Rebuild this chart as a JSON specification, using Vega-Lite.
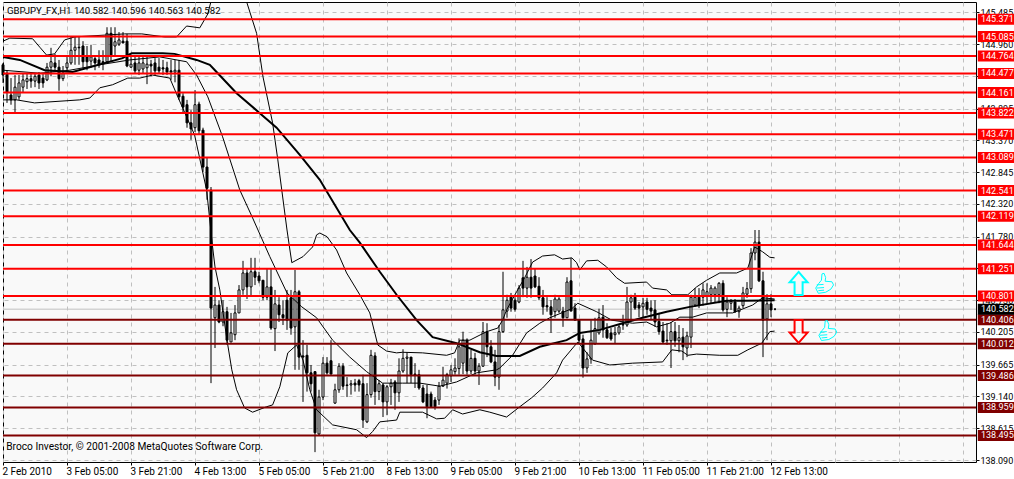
{
  "$schema": "https://vega.github.io/schema/vega-lite/v6.json",
  "description": "GBPJPY H1 candlestick chart with bands and support and resistance levels",
  "width": 973,
  "height": 460,
  "autosize": "none",
  "padding": {"left": 3, "top": 2, "right": 38, "bottom": 17},
  "background": "#ffffff",
  "view": {"fill": "#f9f9f9", "stroke": "#000000", "strokeWidth": 1},
  "title": {"text": "GBPJPY_FX,H1  140.582 140.596 140.563 140.582", "anchor": "start", "frame": "group", "offset": -14, "dx": 4, "font": "Roboto", "fontSize": 9.6, "fontWeight": "normal", "color": "#000000"},
  "datasets": {
    "bars": [
      {"i":0,"o":144.62,"h":144.65,"l":144.32,"c":144.45},{"i":1,"o":144.48,"h":144.53,"l":143.99,"c":144.17},{"i":2,"o":144.12,"h":144.40,"l":143.96,"c":144.04},{"i":3,"o":144.04,"h":144.45,"l":143.84,"c":144.25},{"i":4,"o":144.09,"h":144.45,"l":144.04,"c":144.32},{"i":5,"o":144.25,"h":144.47,"l":144.17,"c":144.37},{"i":6,"o":144.34,"h":144.47,"l":144.22,"c":144.39},{"i":7,"o":144.39,"h":144.47,"l":144.24,"c":144.35},{"i":8,"o":144.35,"h":144.48,"l":144.25,"c":144.43},{"i":9,"o":144.45,"h":144.50,"l":144.22,"c":144.32},
      {"i":10,"o":144.40,"h":144.47,"l":144.24,"c":144.32},{"i":11,"o":144.37,"h":144.65,"l":144.35,"c":144.58},{"i":12,"o":144.58,"h":144.90,"l":144.43,"c":144.67},{"i":13,"o":144.65,"h":144.80,"l":144.53,"c":144.58},{"i":14,"o":144.58,"h":144.70,"l":144.19,"c":144.39},{"i":15,"o":144.39,"h":144.60,"l":144.35,"c":144.48},{"i":16,"o":144.57,"h":144.76,"l":144.53,"c":144.65},{"i":17,"o":144.65,"h":145.08,"l":144.62,"c":144.86},{"i":18,"o":144.86,"h":145.08,"l":144.62,"c":144.91},{"i":19,"o":144.91,"h":145.08,"l":144.62,"c":144.90},
      {"i":20,"o":144.93,"h":145.01,"l":144.57,"c":144.67},{"i":21,"o":144.75,"h":144.93,"l":144.53,"c":144.67},{"i":22,"o":144.68,"h":144.95,"l":144.57,"c":144.75},{"i":23,"o":144.72,"h":144.78,"l":144.53,"c":144.65},{"i":24,"o":144.70,"h":144.86,"l":144.57,"c":144.62},{"i":25,"o":144.67,"h":144.86,"l":144.53,"c":144.65},{"i":26,"o":144.67,"h":145.24,"l":144.65,"c":145.14},{"i":27,"o":145.14,"h":145.24,"l":144.67,"c":144.78},{"i":28,"o":144.93,"h":145.24,"l":144.78,"c":145.00},{"i":29,"o":144.96,"h":145.16,"l":144.93,"c":145.03},
      {"i":30,"o":145.01,"h":145.16,"l":144.98,"c":144.98},{"i":31,"o":145.01,"h":145.13,"l":144.58,"c":144.60},{"i":32,"o":144.58,"h":144.78,"l":144.57,"c":144.63},{"i":33,"o":144.65,"h":144.78,"l":144.48,"c":144.52},{"i":34,"o":144.53,"h":144.75,"l":144.45,"c":144.65},{"i":35,"o":144.55,"h":144.75,"l":144.48,"c":144.65},{"i":36,"o":144.57,"h":144.75,"l":144.30,"c":144.63},{"i":37,"o":144.63,"h":144.70,"l":144.43,"c":144.60},{"i":38,"o":144.65,"h":144.73,"l":144.45,"c":144.52},{"i":39,"o":144.58,"h":144.73,"l":144.48,"c":144.52},
      {"i":40,"o":144.57,"h":144.70,"l":144.45,"c":144.55},{"i":41,"o":144.57,"h":144.67,"l":144.45,"c":144.50},{"i":42,"o":144.52,"h":144.70,"l":144.37,"c":144.50},{"i":43,"o":144.50,"h":144.70,"l":144.33,"c":144.53},{"i":44,"o":144.53,"h":144.70,"l":144.04,"c":144.09},{"i":45,"o":144.10,"h":144.15,"l":143.81,"c":143.92},{"i":46,"o":143.96,"h":144.04,"l":143.58,"c":143.66},{"i":47,"o":143.66,"h":143.87,"l":143.38,"c":143.56},{"i":48,"o":143.58,"h":144.20,"l":143.51,"c":143.96},{"i":49,"o":143.97,"h":144.01,"l":143.46,"c":143.53},
      {"i":50,"o":143.54,"h":143.58,"l":142.85,"c":142.93},{"i":51,"o":142.93,"h":143.08,"l":142.39,"c":142.58},{"i":52,"o":142.55,"h":142.60,"l":139.36,"c":140.60},{"i":53,"o":140.44,"h":140.95,"l":139.94,"c":140.65},{"i":54,"o":140.65,"h":140.73,"l":140.35,"c":140.37},{"i":55,"o":140.37,"h":140.73,"l":140.30,"c":140.54},{"i":56,"o":140.54,"h":140.62,"l":139.99,"c":140.07},{"i":57,"o":140.04,"h":140.52,"l":140.04,"c":140.19},{"i":58,"o":140.16,"h":140.65,"l":140.07,"c":140.52},{"i":59,"o":140.52,"h":140.98,"l":140.52,"c":140.90},
      {"i":60,"o":140.90,"h":141.38,"l":140.82,"c":141.18},{"i":61,"o":141.18,"h":141.26,"l":140.75,"c":140.95},{"i":62,"o":140.95,"h":141.43,"l":140.80,"c":141.20},{"i":63,"o":141.20,"h":141.43,"l":140.98,"c":141.11},{"i":64,"o":141.13,"h":141.20,"l":141.01,"c":141.05},{"i":65,"o":141.06,"h":141.06,"l":140.73,"c":140.78},{"i":66,"o":140.78,"h":141.26,"l":140.73,"c":140.95},{"i":67,"o":140.95,"h":141.26,"l":140.24,"c":140.27},{"i":68,"o":140.26,"h":140.90,"l":139.89,"c":140.67},{"i":69,"o":140.65,"h":140.78,"l":140.37,"c":140.49},
      {"i":70,"o":140.49,"h":140.73,"l":140.32,"c":140.44},{"i":71,"o":140.73,"h":140.90,"l":140.24,"c":140.40},{"i":72,"o":140.77,"h":140.90,"l":140.16,"c":140.27},{"i":73,"o":140.29,"h":141.23,"l":139.58,"c":140.87},{"i":74,"o":140.87,"h":140.90,"l":139.58,"c":139.79},{"i":75,"o":139.81,"h":140.07,"l":139.05,"c":139.79},{"i":76,"o":139.82,"h":139.99,"l":139.22,"c":139.53},{"i":77,"o":139.53,"h":139.66,"l":139.22,"c":139.35},{"i":78,"o":139.55,"h":139.55,"l":138.22,"c":138.54},{"i":79,"o":138.52,"h":139.25,"l":138.50,"c":139.13},
      {"i":80,"o":139.13,"h":139.79,"l":139.08,"c":139.69},{"i":81,"o":139.69,"h":139.79,"l":139.50,"c":139.53},{"i":82,"o":139.73,"h":140.07,"l":139.50,"c":139.51},{"i":83,"o":139.03,"h":139.35,"l":139.02,"c":139.25},{"i":84,"o":139.25,"h":139.69,"l":139.20,"c":139.64},{"i":85,"o":139.64,"h":139.69,"l":139.25,"c":139.31},{"i":86,"o":139.33,"h":139.46,"l":139.13,"c":139.32},{"i":87,"o":139.33,"h":139.41,"l":139.17,"c":139.35},{"i":88,"o":139.36,"h":139.43,"l":139.22,"c":139.33},{"i":89,"o":139.40,"h":139.43,"l":139.22,"c":139.33},
      {"i":90,"o":139.35,"h":139.50,"l":138.62,"c":138.75},{"i":91,"o":138.72,"h":139.36,"l":138.70,"c":139.17},{"i":92,"o":139.17,"h":139.91,"l":139.12,"c":139.82},{"i":93,"o":139.81,"h":139.87,"l":139.00,"c":139.22},{"i":94,"o":139.22,"h":139.41,"l":139.08,"c":139.35},{"i":95,"o":139.33,"h":139.36,"l":138.80,"c":139.05},{"i":96,"o":139.05,"h":139.33,"l":138.83,"c":139.30},{"i":97,"o":139.30,"h":139.43,"l":139.00,"c":139.36},{"i":98,"o":139.38,"h":139.41,"l":138.92,"c":139.20},{"i":99,"o":139.20,"h":139.77,"l":139.05,"c":139.56},
      {"i":100,"o":139.56,"h":139.92,"l":139.53,"c":139.77},{"i":101,"o":139.77,"h":139.87,"l":139.36,"c":139.79},{"i":102,"o":139.79,"h":139.79,"l":139.36,"c":139.50},{"i":103,"o":139.51,"h":139.69,"l":139.28,"c":139.50},{"i":104,"o":139.50,"h":139.58,"l":139.25,"c":139.28},{"i":105,"o":139.28,"h":139.33,"l":139.03,"c":139.05},{"i":106,"o":139.18,"h":139.33,"l":138.78,"c":138.97},{"i":107,"o":139.18,"h":139.22,"l":138.95,"c":138.97},{"i":108,"o":139.08,"h":139.13,"l":138.92,"c":138.97},{"i":109,"o":139.08,"h":139.38,"l":139.00,"c":139.31},
      {"i":110,"o":139.31,"h":139.63,"l":139.30,"c":139.41},{"i":111,"o":139.36,"h":139.53,"l":139.27,"c":139.50},{"i":112,"o":139.48,"h":139.66,"l":139.38,"c":139.58},{"i":113,"o":139.55,"h":139.77,"l":139.50,"c":139.61},{"i":114,"o":139.60,"h":140.10,"l":139.50,"c":139.96},{"i":115,"o":139.69,"h":140.21,"l":139.51,"c":140.07},{"i":116,"o":140.07,"h":140.10,"l":139.50,"c":139.56},{"i":117,"o":139.56,"h":139.91,"l":139.51,"c":139.77},{"i":118,"o":139.77,"h":139.86,"l":139.50,"c":139.56},{"i":119,"o":139.56,"h":139.69,"l":139.33,"c":139.64},
      {"i":120,"o":139.64,"h":140.37,"l":139.63,"c":140.21},{"i":121,"o":140.21,"h":140.35,"l":139.79,"c":139.96},{"i":122,"o":139.96,"h":140.07,"l":139.69,"c":139.71},{"i":123,"o":139.71,"h":139.91,"l":139.31,"c":139.46},{"i":124,"o":139.46,"h":140.32,"l":139.25,"c":140.21},{"i":125,"o":140.21,"h":141.20,"l":140.19,"c":140.57},{"i":126,"o":140.55,"h":140.82,"l":140.44,"c":140.73},{"i":127,"o":140.78,"h":140.85,"l":140.54,"c":140.60},{"i":128,"o":140.73,"h":140.78,"l":140.54,"c":140.58},{"i":129,"o":140.70,"h":140.98,"l":140.68,"c":140.93},
      {"i":130,"o":141.10,"h":141.38,"l":140.78,"c":140.93},{"i":131,"o":140.93,"h":141.28,"l":140.77,"c":141.11},{"i":132,"o":141.11,"h":141.41,"l":140.77,"c":140.93},{"i":133,"o":141.13,"h":141.26,"l":140.93,"c":140.95},{"i":134,"o":140.96,"h":141.11,"l":140.73,"c":140.77},{"i":135,"o":140.77,"h":140.90,"l":140.49,"c":140.62},{"i":136,"o":140.64,"h":140.78,"l":140.54,"c":140.62},{"i":137,"o":140.62,"h":140.73,"l":140.19,"c":140.49},{"i":138,"o":140.54,"h":140.82,"l":140.44,"c":140.75},{"i":139,"o":140.55,"h":140.78,"l":140.52,"c":140.75},
      {"i":140,"o":140.55,"h":140.62,"l":140.29,"c":140.44},{"i":141,"o":140.44,"h":141.11,"l":140.44,"c":141.03},{"i":142,"o":141.05,"h":141.43,"l":140.55,"c":140.55},{"i":143,"o":140.60,"h":140.68,"l":140.40,"c":140.40},{"i":144,"o":140.40,"h":140.40,"l":140.01,"c":140.07},{"i":145,"o":140.09,"h":140.16,"l":139.45,"c":139.61},{"i":146,"o":139.61,"h":139.87,"l":139.53,"c":139.76},{"i":147,"o":139.76,"h":140.40,"l":139.68,"c":140.07},{"i":148,"o":140.01,"h":140.44,"l":139.99,"c":140.26},{"i":149,"o":140.19,"h":140.59,"l":140.16,"c":140.44},
      {"i":150,"o":140.45,"h":140.65,"l":140.11,"c":140.24},{"i":151,"o":140.24,"h":140.35,"l":140.09,"c":140.11},{"i":152,"o":140.19,"h":140.27,"l":140.06,"c":140.09},{"i":153,"o":140.16,"h":140.29,"l":140.02,"c":140.19},{"i":154,"o":140.19,"h":140.32,"l":140.16,"c":140.29},{"i":155,"o":140.33,"h":140.49,"l":140.24,"c":140.32},{"i":156,"o":140.32,"h":140.95,"l":140.29,"c":140.70},{"i":157,"o":140.70,"h":140.82,"l":140.40,"c":140.77},{"i":158,"o":140.78,"h":140.85,"l":140.57,"c":140.60},{"i":159,"o":140.65,"h":140.70,"l":140.45,"c":140.60},
      {"i":160,"o":140.62,"h":140.77,"l":140.45,"c":140.68},{"i":161,"o":140.70,"h":140.77,"l":140.49,"c":140.58},{"i":162,"o":140.60,"h":140.73,"l":140.40,"c":140.55},{"i":163,"o":140.57,"h":140.73,"l":140.29,"c":140.37},{"i":164,"o":140.38,"h":140.52,"l":140.16,"c":140.21},{"i":165,"o":140.22,"h":140.37,"l":140.02,"c":140.04},{"i":166,"o":140.07,"h":140.35,"l":139.99,"c":140.06},{"i":167,"o":140.06,"h":140.37,"l":139.61,"c":140.21},{"i":168,"o":140.21,"h":140.37,"l":139.96,"c":140.06},{"i":169,"o":140.06,"h":140.32,"l":139.87,"c":140.11},
      {"i":170,"o":140.12,"h":140.27,"l":139.74,"c":139.96},{"i":171,"o":139.94,"h":140.21,"l":139.79,"c":140.14},{"i":172,"o":140.12,"h":140.82,"l":139.94,"c":140.78},{"i":173,"o":140.65,"h":140.93,"l":140.62,"c":140.78},{"i":174,"o":140.78,"h":140.93,"l":140.60,"c":140.65},{"i":175,"o":140.78,"h":141.01,"l":140.64,"c":140.90},{"i":176,"o":140.80,"h":141.01,"l":140.68,"c":140.87},{"i":177,"o":140.82,"h":140.98,"l":140.68,"c":140.93},{"i":178,"o":140.82,"h":140.96,"l":140.70,"c":140.93},{"i":179,"o":140.82,"h":141.03,"l":140.68,"c":141.01},
      {"i":180,"o":141.01,"h":141.06,"l":140.54,"c":140.57},{"i":181,"o":140.58,"h":140.78,"l":140.45,"c":140.70},{"i":182,"o":140.68,"h":140.75,"l":140.57,"c":140.71},{"i":183,"o":140.70,"h":140.75,"l":140.52,"c":140.54},{"i":184,"o":140.54,"h":140.64,"l":140.44,"c":140.60},{"i":185,"o":140.64,"h":140.95,"l":140.60,"c":140.85},{"i":186,"o":140.83,"h":141.03,"l":140.77,"c":140.92},{"i":187,"o":140.92,"h":141.59,"l":140.85,"c":141.51},{"i":188,"o":141.51,"h":141.89,"l":141.39,"c":141.69},{"i":189,"o":141.69,"h":141.89,"l":141.03,"c":141.05},
      {"i":190,"o":141.05,"h":141.20,"l":139.79,"c":140.40},{"i":191,"o":140.42,"h":140.83,"l":140.07,"c":140.67},{"i":192,"o":140.67,"h":140.83,"l":140.45,"c":140.57},{"i":193,"o":140.582,"h":140.596,"l":140.563,"c":140.582}
    ],
    "ma": [
      {"i":0,"p":144.75},{"i":4.2,"p":144.70},{"i":10.4,"p":144.53},{"i":17.4,"p":144.50},{"i":29.9,"p":144.73},{"i":31.2,"p":144.78},{"i":32.2,"p":144.81},{"i":39.9,"p":144.81},{"i":42.9,"p":144.80},{"i":48.4,"p":144.70},{"i":51.7,"p":144.62},{"i":53.4,"p":144.50},{"i":58.4,"p":144.15},{"i":64.2,"p":143.82},{"i":68.4,"p":143.58},{"i":74.2,"p":143.13},{"i":79.2,"p":142.72},{"i":86.7,"p":141.89},{"i":89.2,"p":141.68},{"i":94.2,"p":141.20},{"i":98.4,"p":140.82},{"i":103.4,"p":140.40},{"i":107.4,"p":140.12},{"i":113.4,"p":140.02},{"i":119.2,"p":139.87},{"i":123.4,"p":139.81},{"i":129.2,"p":139.81},{"i":134.2,"p":139.96},{"i":140.9,"p":140.07},{"i":144.2,"p":140.19},{"i":149.2,"p":140.24},{"i":154.9,"p":140.35},{"i":159.9,"p":140.44},{"i":165.9,"p":140.54},{"i":171.7,"p":140.62},{"i":180.9,"p":140.72},{"i":184.9,"p":140.72},{"i":192.9,"p":140.73}
    ],
    "bands": [
      {"s":"upper","i":0,"p":145.01},{"s":"upper","i":1.7,"p":145.06},{"s":"upper","i":7.4,"p":145.05},{"s":"upper","i":9.2,"p":144.91},{"s":"upper","i":10.9,"p":144.78},{"s":"upper","i":12.9,"p":144.80},{"s":"upper","i":15.4,"p":145.03},{"s":"upper","i":17.9,"p":145.08},{"s":"upper","i":30.4,"p":145.13},{"s":"upper","i":34.7,"p":145.13},{"s":"upper","i":40.4,"p":145.08},{"s":"upper","i":43.4,"p":145.08},{"s":"upper","i":45.9,"p":145.26},{"s":"upper","i":49.2,"p":145.23},{"s":"upper","i":51.2,"p":145.46},{"s":"upper","i":52.7,"p":145.85},{"s":"upper","i":59.2,"p":146.35},{"s":"upper","i":61,"p":145.64},{"s":"upper","i":63.4,"p":145.14},{"s":"upper","i":65,"p":144.42},{"s":"upper","i":67.4,"p":143.66},{"s":"upper","i":68.7,"p":143.05},{"s":"upper","i":71,"p":141.89},{"s":"upper","i":72.2,"p":141.35},{"s":"upper","i":75,"p":141.45},{"s":"upper","i":77.4,"p":141.61},{"s":"upper","i":78.4,"p":141.81},{"s":"upper","i":79.2,"p":141.84},{"s":"upper","i":81,"p":141.78},{"s":"upper","i":83.4,"p":141.56},{"s":"upper","i":85.9,"p":141.18},{"s":"upper","i":89.2,"p":140.82},{"s":"upper","i":91.7,"p":140.52},{"s":"upper","i":93.7,"p":139.99},{"s":"upper","i":95.9,"p":139.89},{"s":"upper","i":98.4,"p":139.86},{"s":"upper","i":99.9,"p":139.87},{"s":"upper","i":104.9,"p":139.86},{"s":"upper","i":110.9,"p":139.82},{"s":"upper","i":112.9,"p":139.86},{"s":"upper","i":114.2,"p":140.07},{"s":"upper","i":116.7,"p":140.07},{"s":"upper","i":120.9,"p":140.21},{"s":"upper","i":123.7,"p":140.27},{"s":"upper","i":124.9,"p":140.40},{"s":"upper","i":125.9,"p":140.57},{"s":"upper","i":128.4,"p":140.87},{"s":"upper","i":130.4,"p":141.10},{"s":"upper","i":132.4,"p":141.36},{"s":"upper","i":134.9,"p":141.46},{"s":"upper","i":137.9,"p":141.48},{"s":"upper","i":139.9,"p":141.41},{"s":"upper","i":142.2,"p":141.43},{"s":"upper","i":143.4,"p":141.35},{"s":"upper","i":144.2,"p":141.23},{"s":"upper","i":145.9,"p":141.38},{"s":"upper","i":148.7,"p":141.39},{"s":"upper","i":150.9,"p":141.28},{"s":"upper","i":153.4,"p":141.10},{"s":"upper","i":155.4,"p":141.01},{"s":"upper","i":160.9,"p":141.03},{"s":"upper","i":162.4,"p":140.93},{"s":"upper","i":165.9,"p":140.90},{"s":"upper","i":167.2,"p":140.82},{"s":"upper","i":171.2,"p":140.82},{"s":"upper","i":173.4,"p":140.95},{"s":"upper","i":175.9,"p":141.06},{"s":"upper","i":179.2,"p":141.18},{"s":"upper","i":183.4,"p":141.18},{"s":"upper","i":186.2,"p":141.26},{"s":"upper","i":187.9,"p":141.61},{"s":"upper","i":189.9,"p":141.53},{"s":"upper","i":191.7,"p":141.44},{"s":"upper","i":192.9,"p":141.43},
      {"s":"mid","i":0,"p":144.53},{"s":"mid","i":9.2,"p":144.48},{"s":"mid","i":16.7,"p":144.53},{"s":"mid","i":24.2,"p":144.62},{"s":"mid","i":31.7,"p":144.70},{"s":"mid","i":39.2,"p":144.75},{"s":"mid","i":45.9,"p":144.67},{"s":"mid","i":48.4,"p":144.45},{"s":"mid","i":51.2,"p":144.09},{"s":"mid","i":54.9,"p":143.43},{"s":"mid","i":59.2,"p":142.55},{"s":"mid","i":62.4,"p":142.09},{"s":"mid","i":66.7,"p":141.45},{"s":"mid","i":71,"p":140.85},{"s":"mid","i":74.7,"p":140.62},{"s":"mid","i":78.4,"p":140.44},{"s":"mid","i":82.4,"p":140.07},{"s":"mid","i":86.7,"p":139.79},{"s":"mid","i":90.9,"p":139.55},{"s":"mid","i":94.9,"p":139.36},{"s":"mid","i":99.9,"p":139.36},{"s":"mid","i":104.2,"p":139.36},{"s":"mid","i":109.2,"p":139.31},{"s":"mid","i":113.4,"p":139.38},{"s":"mid","i":118.4,"p":139.53},{"s":"mid","i":123.4,"p":139.58},{"s":"mid","i":124.2,"p":139.61},{"s":"mid","i":127.4,"p":139.82},{"s":"mid","i":130.9,"p":140.19},{"s":"mid","i":134.2,"p":140.35},{"s":"mid","i":136.7,"p":140.44},{"s":"mid","i":142.2,"p":140.59},{"s":"mid","i":143.7,"p":140.68},{"s":"mid","i":148.4,"p":140.54},{"s":"mid","i":152.2,"p":140.40},{"s":"mid","i":157.4,"p":140.35},{"s":"mid","i":160.9,"p":140.37},{"s":"mid","i":163.4,"p":140.29},{"s":"mid","i":166.7,"p":140.35},{"s":"mid","i":169.2,"p":140.45},{"s":"mid","i":172.4,"p":140.45},{"s":"mid","i":175.9,"p":140.52},{"s":"mid","i":182.4,"p":140.52},{"s":"mid","i":187.4,"p":140.65},{"s":"mid","i":189.9,"p":140.77},{"s":"mid","i":192.9,"p":140.75},
      {"s":"lower","i":0,"p":144.04},{"s":"lower","i":3.4,"p":144.04},{"s":"lower","i":7.9,"p":143.99},{"s":"lower","i":19.2,"p":144.04},{"s":"lower","i":21.7,"p":144.07},{"s":"lower","i":24.2,"p":144.24},{"s":"lower","i":27.4,"p":144.29},{"s":"lower","i":31.2,"p":144.40},{"s":"lower","i":34.2,"p":144.40},{"s":"lower","i":37.4,"p":144.45},{"s":"lower","i":41.7,"p":144.40},{"s":"lower","i":43.7,"p":144.09},{"s":"lower","i":47.9,"p":143.46},{"s":"lower","i":50.9,"p":142.55},{"s":"lower","i":52.4,"p":141.61},{"s":"lower","i":53,"p":141.28},{"s":"lower","i":54.2,"p":140.90},{"s":"lower","i":56,"p":140.07},{"s":"lower","i":57.2,"p":139.58},{"s":"lower","i":58.4,"p":139.25},{"s":"lower","i":60.4,"p":138.95},{"s":"lower","i":62.4,"p":138.88},{"s":"lower","i":65.9,"p":138.97},{"s":"lower","i":67.4,"p":139.00},{"s":"lower","i":69.2,"p":139.30},{"s":"lower","i":71.2,"p":139.86},{"s":"lower","i":73.4,"p":139.99},{"s":"lower","i":75,"p":139.74},{"s":"lower","i":76.7,"p":139.25},{"s":"lower","i":78.4,"p":138.92},{"s":"lower","i":82.4,"p":138.67},{"s":"lower","i":88.4,"p":138.59},{"s":"lower","i":90.9,"p":138.46},{"s":"lower","i":92.4,"p":138.56},{"s":"lower","i":94.2,"p":138.72},{"s":"lower","i":98.4,"p":138.75},{"s":"lower","i":99.2,"p":138.88},{"s":"lower","i":104.9,"p":138.88},{"s":"lower","i":108.4,"p":138.77},{"s":"lower","i":110.4,"p":138.78},{"s":"lower","i":112.4,"p":138.92},{"s":"lower","i":114.9,"p":138.85},{"s":"lower","i":119.2,"p":138.92},{"s":"lower","i":121.7,"p":138.88},{"s":"lower","i":125.9,"p":138.80},{"s":"lower","i":129.2,"p":138.97},{"s":"lower","i":132.2,"p":139.12},{"s":"lower","i":134.9,"p":139.28},{"s":"lower","i":138.4,"p":139.53},{"s":"lower","i":139.9,"p":139.74},{"s":"lower","i":143.7,"p":140.04},{"s":"lower","i":147.4,"p":139.74},{"s":"lower","i":151.7,"p":139.66},{"s":"lower","i":157.4,"p":139.69},{"s":"lower","i":164.9,"p":139.71},{"s":"lower","i":167.2,"p":139.91},{"s":"lower","i":169.7,"p":139.89},{"s":"lower","i":171.2,"p":139.82},{"s":"lower","i":173.4,"p":139.84},{"s":"lower","i":179.2,"p":139.82},{"s":"lower","i":183.7,"p":139.82},{"s":"lower","i":186.2,"p":139.91},{"s":"lower","i":189.7,"p":140.02},{"s":"lower","i":191.7,"p":140.21},{"s":"lower","i":192.9,"p":140.22}
    ],
    "levels": [
      {"p":145.371,"kind":"high"},{"p":145.085,"kind":"high"},{"p":144.764,"kind":"high"},{"p":144.477,"kind":"high"},{"p":144.161,"kind":"high"},{"p":143.822,"kind":"high"},{"p":143.471,"kind":"high"},{"p":143.089,"kind":"high"},{"p":142.541,"kind":"high"},{"p":142.119,"kind":"high"},{"p":141.644,"kind":"high"},{"p":141.251,"kind":"high"},{"p":140.801,"kind":"high"},{"p":140.406,"kind":"low"},{"p":140.012,"kind":"low"},{"p":139.486,"kind":"low"},{"p":138.959,"kind":"low"},{"p":138.495,"kind":"low"},{"p":140.582,"kind":"last"}
    ],
    "signals": [
      {"kind":"up","i":198.9,"p":141.007},
      {"kind":"down","i":198.9,"p":140.214},
      {"kind":"thumb","i":205.4,"p":141.0},
      {"kind":"thumb","i":206.2,"p":140.22}
    ],
    "notes": [
      {"i":0.8,"p":138.3,"text":"Broco Investor, © 2001-2008 MetaQuotes Software Corp."}
    ]
  },
  "data": {"name": "bars"},
  "encoding": {
    "x": {
      "field": "i",
      "type": "quantitative",
      "title": null,
      "scale": {"domain": [0, 243.25], "nice": false, "zero": false, "padding": 0},
      "axis": {
        "orient": "bottom",
        "values": [0,16,32,48,64,80,96,112,128,144,160,176,192,208,224,240],
        "labelExpr": "datum.value <= 192 ? ['2 Feb 2010','3 Feb 05:00','3 Feb 21:00','4 Feb 13:00','5 Feb 05:00','5 Feb 21:00','8 Feb 13:00','9 Feb 05:00','9 Feb 21:00','10 Feb 13:00','11 Feb 05:00','11 Feb 21:00','12 Feb 13:00'][datum.value / 16] : ''",
        "labelAlign": "left",
        "labelBaseline": "top",
        "labelPadding": 1,
        "labelOffset": -1,
        "labelFont": "Roboto",
        "labelFontSize": 10,
        "labelColor": "#000000",
        "labelOverlap": false,
        "labelFlush": false,
        "domain": false,
        "tickSize": 3,
        "tickColor": "#000000",
        "tickOpacity": {"condition": {"test": "datum.value <= 192", "value": 1}, "value": 0},
        "grid": true,
        "gridColor": "#c0c0c0",
        "gridDash": [4, 4],
        "gridWidth": 1,
        "gridOpacity": 1
      }
    },
    "y": {
      "field": "p",
      "type": "quantitative",
      "title": null,
      "scale": {"domain": [138.057, 145.657], "nice": false, "zero": false, "padding": 0},
      "axis": {
        "orient": "right",
        "values": [145.485,144.96,144.435,143.895,143.37,142.845,142.32,141.78,141.255,140.73,140.205,139.665,139.14,138.615,138.09],
        "format": ".3f",
        "labelPadding": 1,
        "labelFont": "Roboto",
        "labelFontSize": 9,
        "labelColor": "#000000",
        "labelOverlap": false,
        "labelFlush": false,
        "domain": false,
        "tickSize": 3,
        "tickColor": "#000000",
        "grid": true,
        "gridColor": "#c0c0c0",
        "gridDash": [4, 4],
        "gridWidth": 1,
        "gridOpacity": 1
      }
    }
  },
  "layer": [
    {
      "data": {"name": "levels"},
      "transform": [{"filter": "datum.kind == 'last'"}],
      "mark": {"type": "rule", "color": "#c0c0c0", "strokeWidth": 1},
      "encoding": {"x": null}
    },
    {
      "mark": {"type": "rule", "color": "#000000", "strokeWidth": 1},
      "encoding": {"y": {"field": "l", "type": "quantitative"}, "y2": {"field": "h"}}
    },
    {
      "mark": {"type": "bar", "orient": "vertical", "size": 2, "stroke": "#000000", "strokeWidth": 1},
      "encoding": {
        "y": {"field": "o", "type": "quantitative"},
        "y2": {"field": "c"},
        "color": {"condition": {"test": "datum.c > datum.o", "value": "#ffffff"}, "value": "#000000"}
      }
    },
    {
      "data": {"name": "bands"},
      "mark": {"type": "line", "color": "#000000", "strokeWidth": 1, "clip": true},
      "encoding": {"detail": {"field": "s"}}
    },
    {
      "data": {"name": "ma"},
      "mark": {"type": "line", "color": "#000000", "strokeWidth": 2, "clip": true}
    },
    {
      "data": {"name": "levels"},
      "transform": [{"filter": "datum.kind != 'last'"}],
      "mark": {"type": "rule", "strokeWidth": 2},
      "encoding": {
        "x": null,
        "color": {"field": "kind", "type": "nominal", "legend": null, "scale": {"domain": ["high", "low", "last"], "range": ["#ff0000", "#800000", "#000000"]}}
      }
    },
    {
      "data": {"name": "levels"},
      "transform": [{"calculate": "243.7", "as": "tagFrom"}, {"calculate": "252.8", "as": "tagTo"}],
      "mark": {"type": "bar", "orient": "horizontal", "size": 11},
      "encoding": {
        "x": {"field": "tagFrom", "type": "quantitative"},
        "x2": {"field": "tagTo"},
        "color": {"field": "kind", "type": "nominal", "legend": null}
      }
    },
    {
      "data": {"name": "levels"},
      "transform": [{"calculate": "244.5", "as": "textAt"}],
      "mark": {"type": "text", "align": "left", "baseline": "middle", "font": "Roboto", "fontSize": 9, "color": "#ffffff"},
      "encoding": {
        "x": {"field": "textAt", "type": "quantitative"},
        "text": {"field": "p", "type": "quantitative", "format": ".3f"}
      }
    },
    {
      "data": {"name": "signals"},
      "transform": [{"filter": "datum.kind == 'up'"}],
      "mark": {"type": "point", "shape": "M0,-1 L0.78,-0.1 L0.35,-0.1 L0.35,1 L-0.35,1 L-0.35,-0.1 L-0.78,-0.1 Z", "size": 529, "filled": false, "stroke": "#00ffff", "strokeWidth": 2, "opacity": 1}
    },
    {
      "data": {"name": "signals"},
      "transform": [{"filter": "datum.kind == 'down'"}],
      "mark": {"type": "point", "shape": "M0,1 L0.78,0.1 L0.35,0.1 L0.35,-1 L-0.35,-1 L-0.35,0.1 L-0.78,0.1 Z", "size": 529, "filled": false, "stroke": "#ff0000", "strokeWidth": 2, "opacity": 1}
    },
    {
      "data": {"name": "signals"},
      "transform": [{"filter": "datum.kind == 'thumb'"}],
      "mark": {"type": "point", "shape": "M-0.55,-0.05 L-0.3,-0.35 L-0.25,-0.95 L-0.05,-1 L0.1,-0.6 L0.05,-0.25 L0.7,-0.2 L0.85,0.1 L0.6,0.5 L0.1,0.8 L-0.6,0.9 L-0.85,0.4 Z M-0.75,0.1 L-0.1,0.05 M-0.75,0.4 L-0.05,0.35 M-0.6,0.65 L-0.05,0.6", "size": 441, "filled": false, "stroke": "#00ffff", "strokeWidth": 1, "opacity": 1}
    },
    {
      "data": {"name": "notes"},
      "mark": {"type": "text", "align": "left", "baseline": "middle", "font": "Roboto", "fontSize": 10.2, "color": "#000000"},
      "encoding": {"text": {"field": "text"}}
    }
  ]
}
